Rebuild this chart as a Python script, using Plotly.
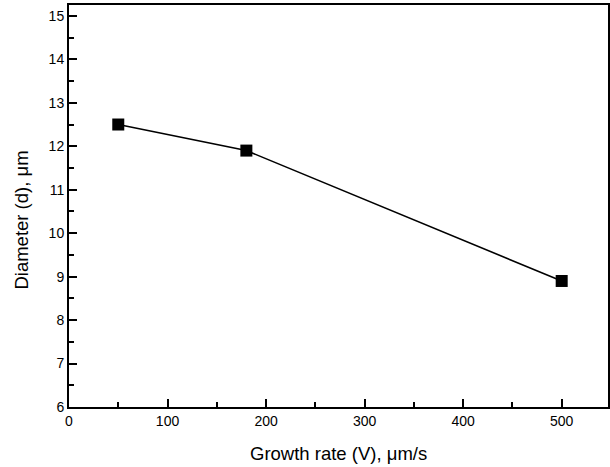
import plotly.graph_objects as go

growth_rate = [50, 180, 500]
diameter = [12.5, 11.9, 8.9]

fig = go.Figure()
fig.add_trace(go.Scatter(
    x=growth_rate, y=diameter, mode="lines+markers",
    line=dict(color="black", width=1.6),
    marker=dict(symbol="square", size=12, color="black"),
    showlegend=False,
))

font = dict(family="Liberation Sans, Arial, sans-serif", color="black")
fig.update_layout(
    width=610, height=467,
    margin=dict(l=69, r=2, t=5, b=60, autoexpand=False),
    paper_bgcolor="white", plot_bgcolor="white",
    font=dict(**font, size=14),
)
fig.update_xaxes(
    range=[0, 547], tickmode="array", tickvals=[0, 100, 200, 300, 400, 500],
    ticks="inside", ticklen=8, tickwidth=2, tickcolor="black",
    minor=dict(tickvals=[50, 150, 250, 350, 450], ticks="inside", ticklen=5, tickwidth=2, tickcolor="black"),
    showline=True, linewidth=2, linecolor="black", mirror=True,
    showgrid=False, zeroline=False, automargin=False,
    tickfont=dict(size=14),
)
fig.update_yaxes(
    range=[6, 15.25], tickmode="array", tickvals=[6, 7, 8, 9, 10, 11, 12, 13, 14, 15],
    ticks="inside", ticklen=8, tickwidth=2, tickcolor="black",
    minor=dict(tickvals=[6.5, 7.5, 8.5, 9.5, 10.5, 11.5, 12.5, 13.5, 14.5], ticks="inside", ticklen=5, tickwidth=2, tickcolor="black"),
    showline=True, linewidth=2, linecolor="black", mirror=True,
    showgrid=False, zeroline=False, automargin=False,
    tickfont=dict(size=14),
)
fig.add_annotation(text="Growth rate (V), μm/s", xref="paper", yref="paper",
                   x=0.5, y=0, xanchor="center", yanchor="middle", yshift=-46,
                   showarrow=False, font=dict(size=18.5))
fig.add_annotation(text="Diameter (d), μm", xref="paper", yref="paper",
                   x=0, y=0.465, xanchor="center", yanchor="middle", xshift=-47.5,
                   textangle=-90, showarrow=False, font=dict(size=18.5))
fig.write_html("out.html", config={"displayModeBar": False},
               post_script="document.body.style.margin='0';")
